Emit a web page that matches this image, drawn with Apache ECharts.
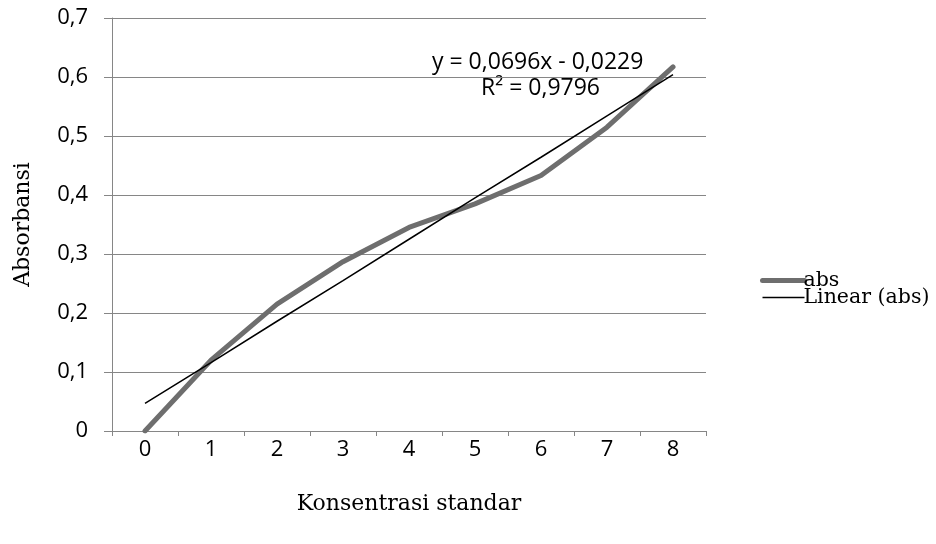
<!DOCTYPE html>
<html><head><meta charset="utf-8">
<script src="https://cdn.jsdelivr.net/npm/echarts@6/dist/echarts.min.js"></script>
<style>html,body{margin:0;padding:0;background:#fff}#c{width:936px;height:544px}</style>
</head><body><div id="c"></div>
<script>
const categories = ['0','1','2','3','4','5','6','7','8'];
const absValues = [0, 0.12, 0.215, 0.287, 0.345, 0.385, 0.433, 0.515, 0.617];
const trendValues = [0.047, 0.116, 0.186, 0.255, 0.325, 0.395, 0.464, 0.534, 0.604];
const equationLines = ['y = 0,0696x - 0,0229', 'R² = 0,9796'];

const chart = echarts.init(document.getElementById('c'));
chart.setOption({
  backgroundColor: '#ffffff',
  animation: false,
  grid: {left: 112, right: 230, top: 18, bottom: 113, containLabel: false},
  legend: {
    orient: 'vertical', left: 755, top: 265, itemGap: -4, itemWidth: 42, itemHeight: 14,
    textStyle: {fontFamily: 'DejaVu Serif', fontSize: 20.5, color: '#000', lineHeight: 14, padding: [0,0,0,-6]},
    data: [
      {name: 'abs', itemStyle: {opacity: 0}, lineStyle: {width: 5, color: '#6e6e6e'}},
      {name: 'Linear (abs)', itemStyle: {opacity: 0}, lineStyle: {width: 1.5, color: '#000'}}
    ]
  },
  xAxis: {
    type: 'category', data: categories, boundaryGap: true,
    name: 'Konsentrasi standar', nameLocation: 'middle', nameGap: 62,
    nameTextStyle: {fontFamily: 'DejaVu Serif', fontSize: 22, color: '#000'},
    axisLine: {lineStyle: {color: '#868686', width: 1}},
    axisTick: {show: true, length: 5, lineStyle: {color: '#868686'}},
    axisLabel: {fontFamily: 'Open Sans', fontSize: 22, color: '#000', margin: 8}
  },
  yAxis: {
    type: 'value', min: 0, max: 0.7, interval: 0.1,
    name: 'Absorbansi', nameLocation: 'middle', nameGap: 78, nameRotate: 90,
    nameTextStyle: {fontFamily: 'DejaVu Serif', fontSize: 22, color: '#000'},
    axisLine: {show: true, lineStyle: {color: '#868686', width: 1}},
    axisTick: {show: true, length: 8, lineStyle: {color: '#868686'}},
    splitLine: {lineStyle: {color: '#868686', width: 1}},
    axisLabel: {fontFamily: 'Open Sans', fontSize: 22, color: '#000', margin: 24,
      formatter: v => v === 0 ? '0' : v.toFixed(1).replace('.', ',')}
  },
  series: [
    {name: 'abs', type: 'line', data: absValues, symbol: 'none', showSymbol: false,
     lineStyle: {color: '#6e6e6e', width: 5, cap: 'round', join: 'round'}, itemStyle: {color: '#6e6e6e'}, z: 2},
    {name: 'Linear (abs)', type: 'line', data: trendValues, symbol: 'none', showSymbol: false,
     lineStyle: {color: '#000', width: 1.5}, itemStyle: {color: '#000'}, z: 3}
  ],
  graphic: [
    {type: 'text', left: 432, top: 51, style: {text: equationLines[0], font: '23px "Open Sans"', fill: '#000'}},
    {type: 'text', left: 481, top: 77, style: {text: equationLines[1], font: '23px "Open Sans"', fill: '#000'}}
  ]
});
</script></body></html>
